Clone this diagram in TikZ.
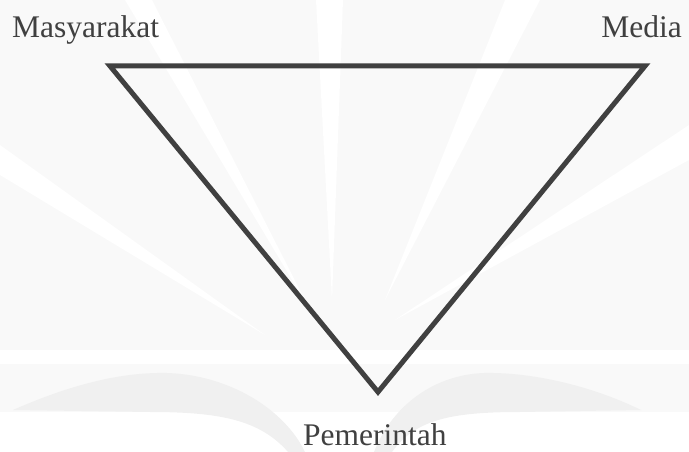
\documentclass[tikz,border=0pt]{standalone}
\usepackage{fontspec}
\setmainfont{Liberation Serif}
\definecolor{ink}{HTML}{404040}
\definecolor{bgc}{HTML}{F9F9F9}
\definecolor{pagec}{HTML}{F0F0F0}
\begin{document}
\begin{tikzpicture}[x=1pt,y=-1pt,
  lbl/.style={inner sep=0pt, font=\fontsize{31.5}{36}\selectfont, text=ink},
  tri/.style={draw=ink, line width=5pt, line join=miter},
  ray/.style={fill=white}]
\useasboundingbox (0,0) rectangle (689,452);
% faint watermark background
\fill[bgc] (0,0) rectangle (689,412);
\fill[ray] (316,0) -- (343,0) -- (332,300) -- cycle;
\fill[ray] (125,0) -- (152,0) -- (310,310) -- cycle;
\fill[ray] (505,0) -- (540,0) -- (385,300) -- cycle;
\fill[ray] (0,145) -- (0,175) -- (265,335) -- cycle;
\fill[ray] (689,125) -- (689,160) -- (395,320) -- cycle;
\fill[ray] (0,350) rectangle (689,364);
\fill[pagec] (13,410) .. controls (70,385) and (120,372) .. (167,373)
  .. controls (230,375) and (285,410) .. (305,452) -- (288,452)
  .. controls (260,420) and (220,412) .. (150,412) -- cycle;
\fill[pagec] (641,410) .. controls (590,385) and (530,372) .. (484,373)
  .. controls (430,375) and (390,410) .. (374,452) -- (392,452)
  .. controls (415,420) and (450,412) .. (520,412) -- cycle;
% diagram
\coordinate (A) at (110,66);
\coordinate (B) at (645,66);
\coordinate (C) at (378,392);
\draw[tri] (A) -- (B) -- (C) -- cycle;
\node[lbl, anchor=base west] (masy) at (12,38) {Masyarakat};
\node[lbl, anchor=base east] (media) at (682,38) {Media};
\node[lbl, anchor=base west] (pem) at (303,445) {Pemerintah};
\end{tikzpicture}
\end{document}
